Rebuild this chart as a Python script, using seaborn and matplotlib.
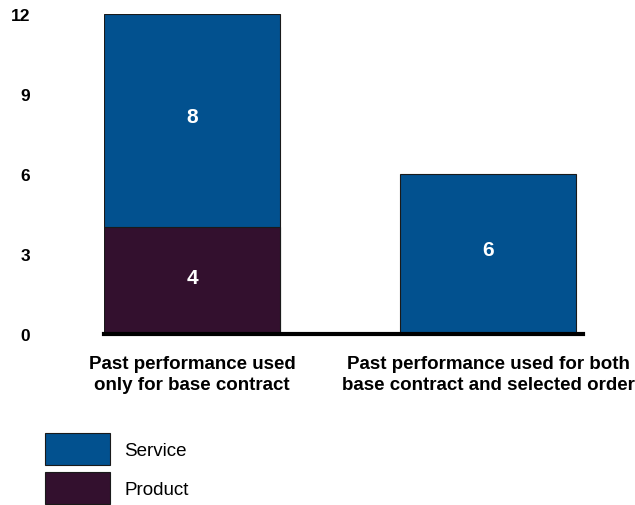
import pandas as pd
import matplotlib.pyplot as plt
import seaborn as sns
from matplotlib.patches import Patch

# data
categories = ['Past performance used\nonly for base contract',
              'Past performance used for both\nbase contract and selected order']
product = [4, 0]
service = [8, 6]
yticks = [0, 3, 6, 9, 12]

service_color = '#02518f'
product_color = '#33102e'

sns.set_theme(style="white")
plt.rcParams['font.family'] = ['Liberation Sans', 'DejaVu Sans']
plt.rcParams['text.color'] = 'black'
plt.rcParams['xtick.color'] = 'black'
plt.rcParams['ytick.color'] = 'black'

df = pd.DataFrame({'category': categories, 'product': product, 'service': service})
df['total'] = df['product'] + df['service']

fig = plt.figure(figsize=(6.35, 5.06), dpi=100)
ax = fig.add_axes([0.1638, 0.338, 0.7542, 0.632])

# stacked bars: total first (service colour), then product on top
sns.barplot(data=df, x='category', y='total', color=service_color, width=0.595,
            edgecolor='#1a1a1a', linewidth=0.8, saturation=1, ax=ax)
sns.barplot(data=df, x='category', y='product', color=product_color, width=0.595,
            edgecolor='#1a1a1a', linewidth=0.8, saturation=1, ax=ax)

# value labels inside the segments
for i, row in df.iterrows():
    if row['product'] > 0:
        ax.annotate(str(row['product']), (i, row['product'] / 2), xytext=(0, 2),
                    textcoords='offset points', ha='center', va='center',
                    color='white', fontsize=15, fontweight='bold')
    if row['service'] > 0:
        ax.annotate(str(row['service']), (i, row['product'] + row['service'] / 2),
                    xytext=(0, 3), textcoords='offset points', ha='center',
                    va='center', color='white', fontsize=15, fontweight='bold')

ax.set_xlim(-0.2975, 1.32)
ax.set_ylim(0, 12)
ax.set_yticks(yticks)
ax.set_yticklabels([str(t) for t in yticks], fontsize=12.5, fontweight='bold')
ax.tick_params(axis='y', length=0, pad=53)
ax.tick_params(axis='x', length=0, pad=15.5, labelsize=13.5)
for lbl in ax.get_xticklabels():
    lbl.set_fontweight('bold')
    lbl.set_linespacing(1.25)
ax.set_xlabel('')
ax.set_ylabel('')

for s in ['top', 'right', 'left']:
    ax.spines[s].set_visible(False)
ax.spines['bottom'].set_linewidth(3)
ax.spines['bottom'].set_color('black')

handles = [Patch(facecolor=service_color, edgecolor='#1a1a1a', linewidth=0.8, label='Service'),
           Patch(facecolor=product_color, edgecolor='#1a1a1a', linewidth=0.8, label='Product')]
fig.legend(handles=handles, loc='upper left', bbox_to_anchor=(45 / 635, 1 - 434 / 506),
           frameon=False, fontsize=13.5, handlelength=3.47, handleheight=2.25,
           labelspacing=0.37, handletextpad=0.75, borderpad=0, borderaxespad=0)

fig.savefig('out.png', dpi=100)
